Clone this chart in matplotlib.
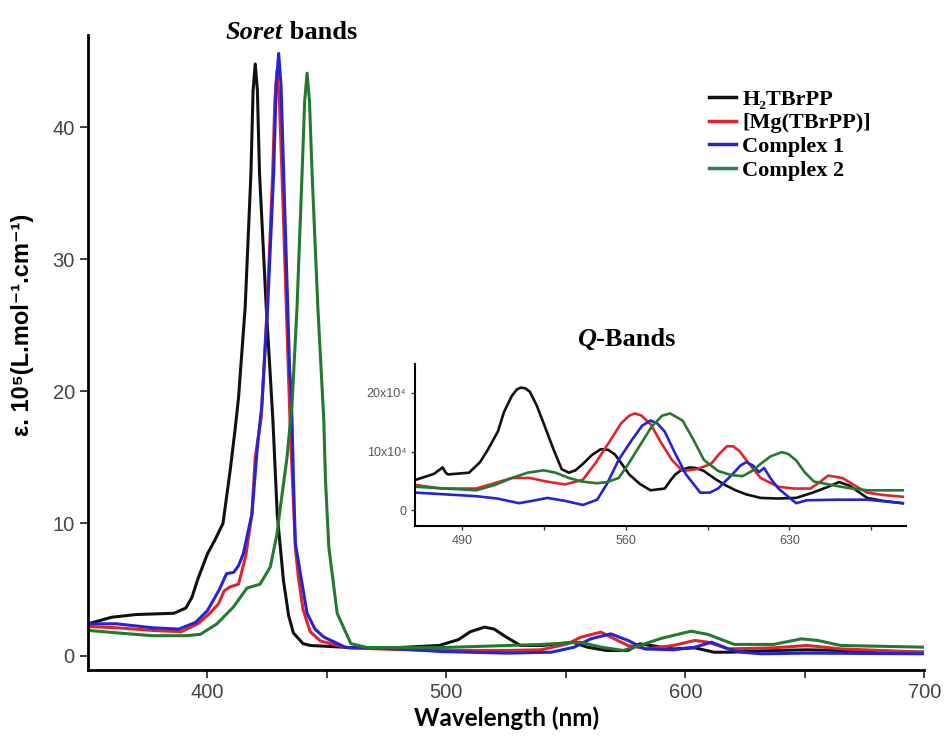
import matplotlib
matplotlib.use('Agg')
import matplotlib.pyplot as plt
from matplotlib.ticker import FixedLocator

# Soret region, epsilon in units of 1e5 L/mol/cm
h2_wl = [350, 360, 370, 386, 391, 393.5, 396, 400, 403, 406.5, 409.5, 411.5, 413, 415.8, 418.2, 419.1,
         420, 420.9, 421.8, 424.6, 427.4, 429.2, 431.8, 434, 436, 440, 443, 460, 480, 497, 505, 510,
         516, 520, 525, 531, 540, 553, 559, 567, 576, 581, 595, 604, 612, 619, 637, 651, 665, 700]
h2_eps = [2.4, 2.9, 3.1, 3.2, 3.6, 4.4, 5.8, 7.7, 8.7, 10.0, 14.0, 17.0, 19.5, 26.4, 36.5, 42.8,
          44.8, 42.8, 36.5, 26.4, 17.8, 10.7, 5.7, 3.0, 1.7, 0.9, 0.76, 0.6, 0.6, 0.76, 1.2, 1.8,
          2.15, 2.0, 1.4, 0.76, 0.76, 1.0, 0.63, 0.38, 0.38, 0.88, 0.5, 0.58, 0.25, 0.25, 0.38, 0.43, 0.38, 0.25]

mg_wl = [350, 362, 377, 389, 396, 401, 404.6, 407, 409.5, 413, 416, 418.6, 420, 422.5, 425, 427.3,
         428.2, 429.1, 430.1, 431.2, 433, 434.7, 436.8, 438, 440, 443, 447.3, 458, 480, 498, 525,
         539.5, 550.7, 556.3, 564.7, 570.3, 576, 584, 595, 604, 609.4, 618, 637, 651, 665, 700]
mg_eps = [2.2, 2.1, 1.9, 1.8, 2.4, 3.2, 3.9, 4.9, 5.2, 5.4, 7.5, 10.7, 15.0, 18.0, 26.4, 36.5,
          42.0, 44.3, 42.0, 36.5, 26.4, 17.0, 8.2, 6.0, 3.5, 1.8, 1.1, 0.6, 0.45, 0.38, 0.38,
          0.43, 0.88, 1.39, 1.77, 1.26, 0.76, 0.5, 0.76, 1.14, 1.01, 0.5, 0.58, 0.76, 0.5, 0.25]

c1_wl = [350, 362, 377, 388, 395, 400, 405, 408, 411, 413, 415, 418.6, 421, 422.8, 425.2, 427.7,
         428.8, 429.8, 430.8, 431.9, 433.6, 434.4, 435, 435.4, 436, 436.8, 438.9, 441.7, 445, 448.7,
         458, 480, 498, 525, 544, 553.5, 560.4, 568.8, 576, 583, 595, 604, 611, 618, 623.4, 632, 651, 700]
c1_eps = [2.4, 2.4, 2.1, 2.0, 2.5, 3.4, 5.0, 6.2, 6.3, 6.8, 7.7, 10.7, 16.0, 19.0, 26.4, 36.5,
          43.2, 45.6, 43.2, 36.5, 26.4, 21.5, 20.2, 17.8, 13.3, 8.5, 6.2, 3.2, 2.0, 1.4,
          0.6, 0.5, 0.3, 0.18, 0.25, 0.63, 1.26, 1.64, 1.14, 0.5, 0.43, 0.63, 1.01, 0.5, 0.25, 0.13, 0.18, 0.13]

c2_wl = [350, 363, 377, 391, 397, 404, 411, 416.5, 422, 426.3, 429.1, 430.5, 433.3, 435.4, 437.5,
         439.6, 440.7, 441.7, 442.7, 443.8, 446.2, 448.7, 449.4, 450.8, 454.3, 460, 467, 480, 498,
         540, 556, 565, 574, 581, 590, 602.4, 609.4, 620.5, 637, 648.5, 655.4, 665, 700]
c2_eps = [1.9, 1.7, 1.5, 1.5, 1.6, 2.4, 3.7, 5.1, 5.4, 6.7, 9.2, 11.2, 15.0, 19.0, 26.4,
          36.5, 42.0, 44.1, 42.0, 36.5, 26.4, 17.8, 13.3, 8.2, 3.2, 0.9, 0.6, 0.6, 0.6,
          0.84, 1.0, 0.63, 0.38, 0.76, 1.3, 1.84, 1.6, 0.84, 0.84, 1.26, 1.14, 0.76, 0.63]

# Q-band inset, epsilon in units of 1e4
qh2_wl = [470.3, 478, 481.7, 483, 484, 493, 497.7, 501, 505.3, 508, 511.3, 513.5, 515.1, 517, 519, 522,
          525, 529, 532.6, 535.7, 538.5, 541.7, 545.5, 549.3, 552.5, 555.4, 558.5, 561.5, 566, 570.6,
          576.7, 579, 581.2, 584, 587.3, 590, 593.4, 598, 602.5, 607, 611.6, 617.7, 625, 632.9, 640,
          646.6, 651.2, 655.7, 663.3, 670, 678.5]
qh2_eps = [5.2, 6.2, 7.3, 6.4, 6.1, 6.4, 8.2, 10.3, 13.4, 16.8, 19.5, 20.6, 20.9, 20.8, 20.2, 17.8,
           14.7, 10.5, 7.0, 6.4, 6.8, 7.9, 9.4, 10.4, 10.3, 9.5, 7.8, 6.1, 4.5, 3.4,
           3.7, 5.0, 6.1, 6.9, 7.3, 7.2, 6.7, 5.4, 4.3, 3.4, 2.7, 2.1, 2.0, 2.1, 3.0,
           4.0, 4.8, 4.2, 2.1, 1.6, 1.2]

qmg_wl = [470.3, 481, 496, 503, 511.3, 519, 526, 534.1, 541.7, 547, 553.9, 558, 561.5, 563.8, 566.5,
          570.6, 575, 579.7, 584.3, 590.4, 596.5, 600, 603.3, 606, 608.6, 613, 617.7, 625.3, 632, 639,
          643, 646.6, 652.7, 658, 663.3, 670, 678.5]
qmg_eps = [4.3, 3.7, 3.7, 4.5, 5.5, 5.5, 4.9, 4.4, 5.2, 8.0, 12.2, 14.8, 16.1, 16.5, 16.2,
           14.7, 11.6, 8.6, 6.7, 7.0, 7.9, 9.6, 10.9, 10.9, 10.1, 7.8, 5.5, 4.0, 3.7, 3.7,
           4.8, 5.9, 5.5, 4.2, 3.0, 2.6, 2.3]

qc1_wl = [470.3, 496, 505, 514.4, 520, 526.5, 534, 541.7, 547.8, 552, 557, 563, 567, 570.6, 573.5,
          576.7, 581, 585.8, 591.9, 596, 599.5, 605.6, 609, 611.6, 614.5, 617, 619.2, 622, 625.3,
          632.9, 637.5, 650, 663.3, 678.5]
qc1_eps = [3.0, 2.4, 2.0, 1.2, 1.6, 2.1, 1.6, 0.9, 1.8, 4.5, 8.6, 12.2, 14.4, 15.3, 14.8,
           13.4, 9.8, 6.1, 3.0, 3.0, 3.7, 6.1, 7.6, 8.2, 7.6, 6.5, 7.2, 5.4, 3.7,
           1.2, 1.7, 1.8, 1.8, 1.2]

qc2_wl = [470.3, 496, 504, 511.3, 518, 525, 530, 535.7, 541, 547.8, 552, 557, 561, 566, 571, 575.5,
          579, 584.3, 589, 593.4, 599.5, 605, 610, 614, 617.7, 622, 626.8, 629.5, 632.9, 636.5, 640.5,
          648.1, 655, 663.3, 678.5]
qc2_eps = [4.0, 3.4, 4.3, 5.5, 6.4, 6.8, 6.4, 5.5, 4.9, 4.6, 4.8, 5.5, 7.8, 11.0, 14.2, 16.1,
           16.5, 15.3, 12.0, 8.6, 6.7, 6.0, 5.8, 6.7, 7.9, 9.2, 9.9, 9.6, 8.5, 6.5, 4.9,
           4.3, 3.8, 3.4, 3.4]

labels = ['H\u2082TBrPP', '[Mg(TBrPP)]', 'Complex 1', 'Complex 2']
colors = ['#111111', '#e0242c', '#2424d6', '#237a2e']

serif = ['Liberation Serif', 'DejaVu Serif']
sans = ['Liberation Sans', 'DejaVu Sans']

fig = plt.figure(figsize=(9.46, 7.42), dpi=100)
ax = fig.add_axes([0.093, 0.097, 0.884, 0.856])

series = [(h2_wl, h2_eps), (mg_wl, mg_eps), (c1_wl, c1_eps), (c2_wl, c2_eps)]
for (wl, eps), lab, col in zip(series, labels, colors):
    ax.plot(wl, eps, color=col, lw=2.2, label=lab, solid_joinstyle='round')

ax.set_xlim(350, 700)
ax.set_ylim(-1.1, 47)
for s in ['top', 'right']:
    ax.spines[s].set_visible(False)
for s in ['left', 'bottom']:
    ax.spines[s].set_linewidth(2)
ax.xaxis.set_major_locator(FixedLocator([400, 500, 600, 700]))
ax.xaxis.set_minor_locator(FixedLocator([450, 550, 650]))
ax.yaxis.set_major_locator(FixedLocator([0, 10, 20, 30, 40]))
ax.tick_params(which='both', direction='out', width=1.3, colors='#333333', labelcolor='#444444')
ax.tick_params(which='major', length=6, labelsize=14.5)
ax.tick_params(which='minor', length=6)
for t in ax.get_xticklabels() + ax.get_yticklabels():
    t.set_family(sans)
ax.set_xlabel('Wavelength (nm)', fontsize=17.5, fontweight='bold', family=['Lato', 'DejaVu Sans'], labelpad=3)
ax.set_ylabel('\u03b5. 10\u2075(L.mol\u207b\u00b9.cm\u207b\u00b9)', fontsize=17, fontweight='bold',
              family=sans)
ax.yaxis.set_label_coords(-0.064, 0.543)

leg = ax.legend(loc='upper left', bbox_to_anchor=(698 / 946, 1 - 78 / 742), bbox_transform=fig.transFigure,
                frameon=False, borderpad=0, handlelength=1.2, handletextpad=0.3, labelspacing=0.14,
                prop={'family': serif, 'weight': 'bold', 'size': 16})
leg.legend_handles[3].set_color('#2e7d6e')
for h in leg.legend_handles:
    h.set_linewidth(2.5)

# "Soret bands" title
t1 = fig.text(226 / 946, 1 - 39 / 742, 'Soret', family=serif, style='italic', weight='bold', fontsize=19,
              va='baseline')
ax.annotate(' bands', xy=(1, 0), xycoords=t1, family=serif, weight='bold', fontsize=19, va='bottom')

# inset with Q-bands
ins = fig.add_axes([0.439, 0.291, 0.519, 0.219])
qseries = [(qh2_wl, qh2_eps), (qmg_wl, qmg_eps), (qc1_wl, qc1_eps), (qc2_wl, qc2_eps)]
for (wl, eps), col in zip(qseries, colors):
    ins.plot(wl, eps, color=col, lw=1.9, solid_joinstyle='round')
ins.set_xlim(470, 680)
ins.set_ylim(-2.7, 25)
ins.patch.set_alpha(0)
for s in ['top', 'right']:
    ins.spines[s].set_visible(False)
for s in ['left', 'bottom']:
    ins.spines[s].set_linewidth(1.5)
ins.xaxis.set_major_locator(FixedLocator([490, 560, 630]))
ins.xaxis.set_minor_locator(FixedLocator([525, 595, 665]))
ins.yaxis.set_major_locator(FixedLocator([0, 10, 20]))
ins.set_yticklabels(['0', '10x10\u2074', '20x10\u2074'])
ins.tick_params(which='both', direction='out', length=3, width=1, colors='#333333', labelcolor='#555555',
                labelsize=9)
for t in ins.get_xticklabels() + ins.get_yticklabels():
    t.set_family(sans)

t2 = fig.text(577 / 946, 1 - 346 / 742, 'Q', family=serif, style='italic', weight='bold', fontsize=19,
              va='baseline')
ax.annotate('-Bands', xy=(1, 0), xycoords=t2, family=serif, weight='bold', fontsize=19, va='bottom')

fig.savefig('out.png', dpi=100)
